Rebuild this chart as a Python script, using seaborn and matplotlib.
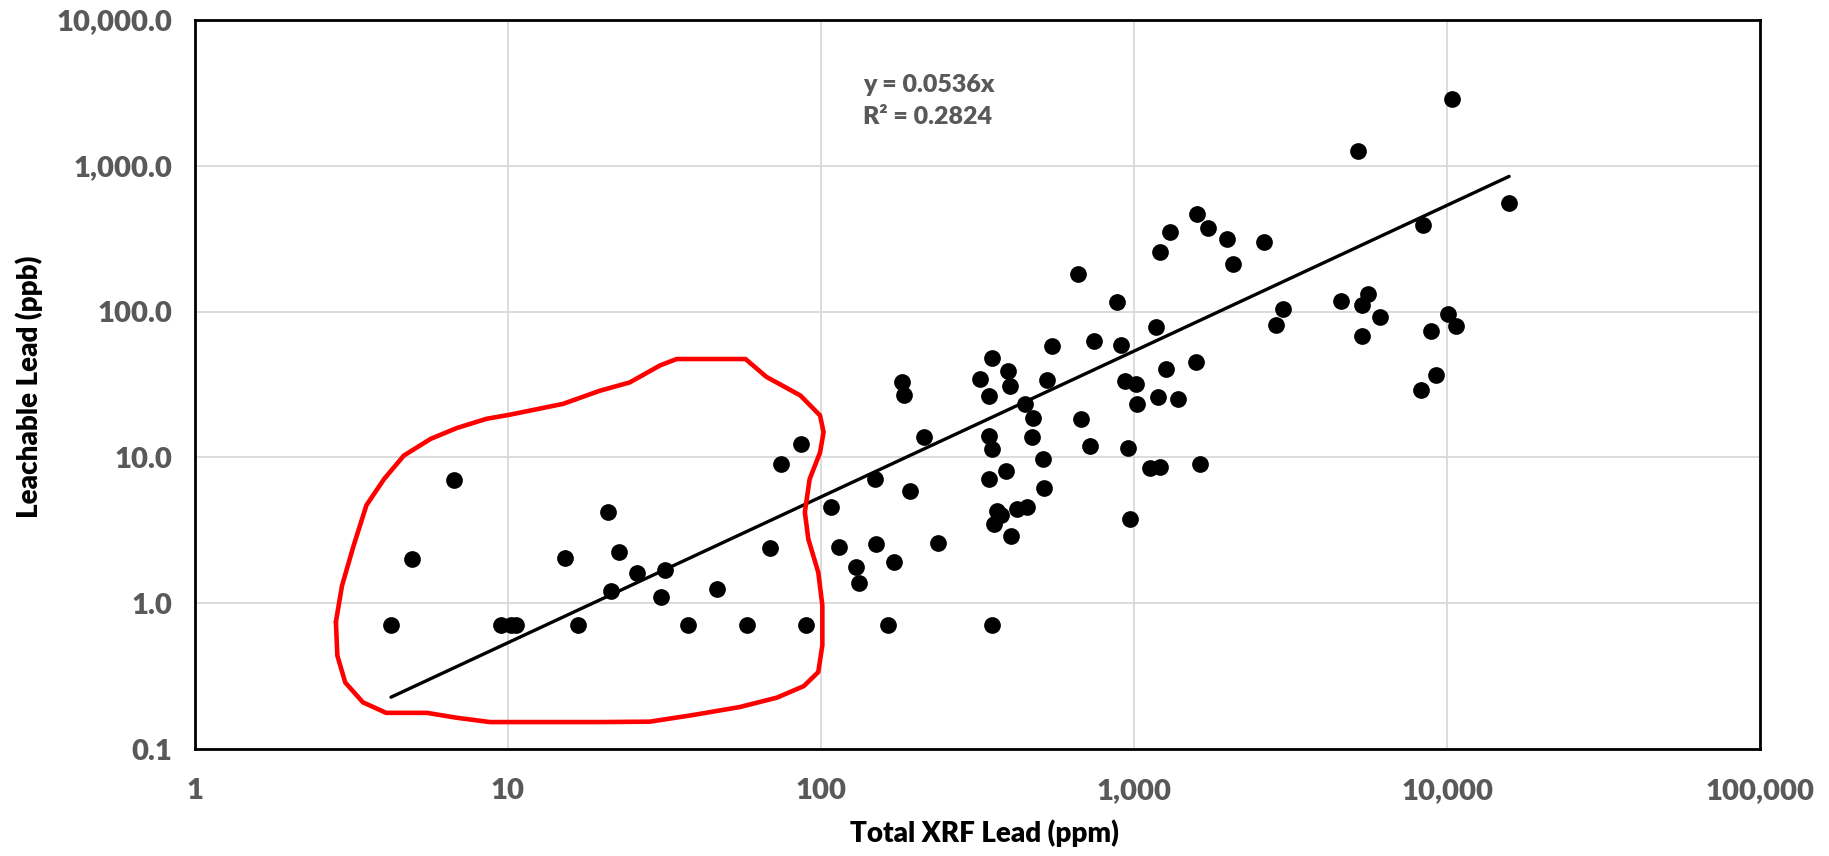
import numpy as np
import pandas as pd
import matplotlib.pyplot as plt
import matplotlib.ticker as mticker
import seaborn as sns

sns.set_theme(style="white")
plt.rcParams['font.family'] = ['Lato', 'DejaVu Sans']
WEIGHT = 800

# Total XRF lead (ppm) and leachable lead (ppb)
xrf_ppm = [
    4.23, 4.95, 6.7, 9.5, 10.2, 10.6, 15.2, 16.7, 20.8, 21.3, 22.7, 25.9, 30.8, 31.8,
    37.5, 46.4, 58.2, 68.5, 74.7, 86.1, 89.8,
    108, 114, 129, 132, 150, 149, 164, 171, 181, 184, 192, 213, 237,
    322, 344, 343, 353, 345, 353, 351, 364, 375, 357, 390, 395, 401, 406, 424, 455,
    449, 476, 473, 513, 514, 527, 547,
    661, 676, 725, 745, 885, 911, 938, 959, 973, 1015, 1025, 1128, 1179, 1196, 1208,
    1214, 1265, 1300, 1383, 1574, 1593, 1622, 1722, 1981, 2066, 2594, 2850, 2985,
    4600, 5196, 5575, 5360, 5360, 6093, 8285, 8400, 8857, 9254, 10080, 10400, 10720, 15790,
]
leach_ppb = [
    0.71, 2.0, 7.0, 0.71, 0.71, 0.71, 2.03, 0.71, 4.2, 1.21, 2.25, 1.62, 1.10, 1.70,
    0.71, 1.25, 0.71, 2.4, 9.0, 12.3, 0.71,
    4.6, 2.42, 1.77, 1.37, 2.56, 7.1, 0.71, 1.91, 33, 27, 5.85, 13.7, 2.57,
    34.4, 26.5, 14.0, 11.4, 7.15, 48, 0.71, 4.3, 4.0, 3.5, 8.1, 39, 31, 2.87, 4.45, 4.6,
    23.3, 18.5, 13.8, 9.7, 6.2, 33.9, 58,
    182, 18.2, 11.9, 62.5, 115.5, 59.3, 33.5, 11.6, 3.78, 32.1, 23.4, 8.4, 78.3, 25.8, 255,
    8.6, 40.4, 354, 25.1, 45.1, 467, 8.96, 372, 315, 212, 302, 80.4, 103.5,
    119, 1254, 131.5, 111, 67.8, 92.4, 28.8, 393, 74, 36.5, 96.4, 2891, 80.2, 555,
]

# linear trend through origin, as reported on the chart
slope = 0.0536
r_squared = 0.2824

# hand-drawn red outline around the low-concentration group (data units)
outline_x = [2.82, 2.85, 3.02, 3.44, 4.08, 5.51, 6.83, 8.76, 19.6, 28.4, 39.0, 55.0, 72.3,
             88.1, 98.0, 101.0, 101.0, 98.0, 91.1, 88.8, 92.0, 99.3, 101.9, 99.3, 85.9,
             66.9, 57.4, 34.6, 30.7, 24.5, 19.6, 15.0, 10.1, 8.54, 6.86, 5.66, 4.65,
             4.02, 3.53, 3.21, 2.95, 2.82]
outline_y = [0.745, 0.437, 0.286, 0.209, 0.177, 0.177, 0.164, 0.153, 0.153, 0.154, 0.171,
             0.194, 0.225, 0.270, 0.337, 0.515, 0.964, 1.63, 2.75, 4.21, 7.11, 10.8, 14.9,
             19.4, 26.6, 35.7, 47.3, 47.3, 42.9, 32.7, 28.6, 23.3, 19.6, 18.4, 15.9, 13.4,
             10.3, 7.11, 4.70, 2.47, 1.32, 0.745]

x_ticks = [1, 10, 100, 1000, 10000, 100000]
y_ticks = [0.1, 1, 10, 100, 1000, 10000]

df = pd.DataFrame({'xrf': xrf_ppm, 'leach': leach_ppb})

fig = plt.figure(figsize=(18.29, 8.56), dpi=100)
ax = fig.add_axes([0.1066, 0.125, 0.8557, 0.8516])

ax.set_xscale('log')
ax.set_yscale('log')
ax.set_xlim(1, 100000)
ax.set_ylim(0.1, 10000)

ax.grid(True, which='major', color='#d9d9d9', linewidth=1.3)
ax.set_axisbelow(True)

sns.scatterplot(data=df, x='xrf', y='leach', ax=ax, color='black', s=145,
                edgecolor='black', linewidth=0, zorder=3)

# trend line over the data range
x_fit = np.array([min(xrf_ppm), max(xrf_ppm)])
ax.plot(x_fit, slope * x_fit, color='black', linewidth=2.4, zorder=4)

ax.plot(outline_x, outline_y, color='#ff0000', linewidth=3.3, zorder=5,
        solid_joinstyle='round')

ax.set_xticks(x_ticks)
ax.set_yticks(y_ticks)
ax.xaxis.set_minor_locator(mticker.NullLocator())
ax.yaxis.set_minor_locator(mticker.NullLocator())
ax.xaxis.set_major_formatter(mticker.FuncFormatter(lambda v, p: f'{v:,.0f}'))
ax.yaxis.set_major_formatter(mticker.FuncFormatter(lambda v, p: f'{v:,.1f}'))
ax.tick_params(axis='both', length=0, labelsize=21, labelcolor='#595959')
ax.tick_params(axis='x', pad=21)
ax.tick_params(axis='y', pad=16)
for lab in ax.get_xticklabels() + ax.get_yticklabels():
    lab.set_fontweight(WEIGHT)

for sp in ax.spines.values():
    sp.set_color('black')
    sp.set_linewidth(2.0)

ax.set_xlabel('')
ax.set_ylabel('')
fig.text(0.538, 0.027, 'Total XRF Lead (ppm)', fontsize=20, fontweight=WEIGHT,
         color='black', ha='center', va='center')
fig.text(0.016, 0.548, 'Leachable Lead (ppb)', rotation=90, fontsize=20,
         fontweight=WEIGHT, color='black', ha='center', va='center')

ax.text(0.427, 0.889, f'y = {slope}x\nR² = {r_squared}', transform=ax.transAxes,
        fontsize=18, fontweight=WEIGHT, color='#595959', ha='left', va='center',
        linespacing=1.55)

fig.savefig('out.png', dpi=100)
